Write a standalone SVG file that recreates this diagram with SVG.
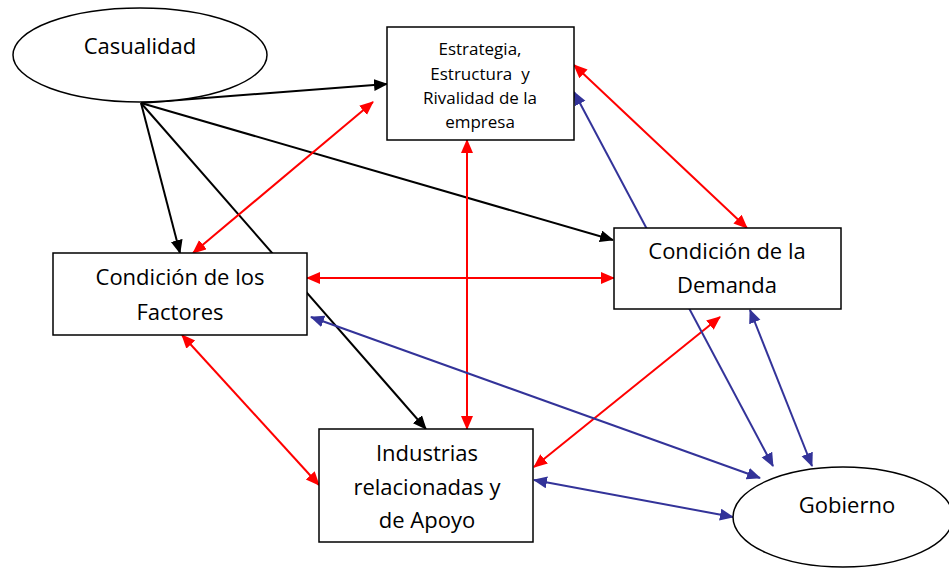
<svg xmlns="http://www.w3.org/2000/svg" width="949" height="568" viewBox="0 0 949 568">
<style>
.node{fill:#fff;stroke:#000;stroke-width:1.5}
.t{font-family:"Open Sans","Liberation Sans",sans-serif;font-size:22px;fill:#000;text-anchor:middle;white-space:pre}
.ts{font-size:17px}
.k{stroke:#000;stroke-width:2;fill:none}
.r{stroke:#ff0000;stroke-width:2;fill:none}
.b{stroke:#333399;stroke-width:2;fill:none}
</style>
<defs>
<marker id="ak" markerUnits="userSpaceOnUse" markerWidth="15" markerHeight="13" refX="13" refY="6" orient="auto-start-reverse"><path d="M0,0 L14,6 L0,12 z" fill="#000"/></marker>
<marker id="ar" markerUnits="userSpaceOnUse" markerWidth="15" markerHeight="13" refX="13" refY="6" orient="auto-start-reverse"><path d="M0,0 L14,6 L0,12 z" fill="#ff0000"/></marker>
<marker id="ab" markerUnits="userSpaceOnUse" markerWidth="15" markerHeight="13" refX="13" refY="6" orient="auto-start-reverse"><path d="M0,0 L14,6 L0,12 z" fill="#333399"/></marker>
</defs>
<g id="connectors">
<line class="k" x1="141" y1="103" x2="387" y2="84" marker-end="url(#ak)"/>
<line class="k" x1="141" y1="103" x2="180" y2="253" marker-end="url(#ak)"/>
<line class="k" x1="141" y1="103" x2="426" y2="429" marker-end="url(#ak)"/>
<line class="k" x1="141" y1="103" x2="613" y2="240" marker-end="url(#ak)"/>
<line class="r" x1="467" y1="140" x2="467" y2="429" marker-start="url(#ar)" marker-end="url(#ar)"/>
<line class="r" x1="307" y1="278" x2="614" y2="278" marker-start="url(#ar)" marker-end="url(#ar)"/>
<line class="r" x1="193" y1="253" x2="373" y2="102" marker-start="url(#ar)" marker-end="url(#ar)"/>
<line class="r" x1="574" y1="65" x2="747" y2="228" marker-start="url(#ar)" marker-end="url(#ar)"/>
<line class="r" x1="182" y1="335" x2="319" y2="485" marker-start="url(#ar)" marker-end="url(#ar)"/>
<line class="r" x1="720" y1="317" x2="534" y2="467" marker-start="url(#ar)" marker-end="url(#ar)"/>
<line class="b" x1="773" y1="466" x2="574" y2="92" marker-start="url(#ab)" marker-end="url(#ab)"/>
<line class="b" x1="311" y1="317" x2="760" y2="478" marker-start="url(#ab)" marker-end="url(#ab)"/>
<line class="b" x1="750" y1="310" x2="812" y2="466" marker-start="url(#ab)" marker-end="url(#ab)"/>
<line class="b" x1="534" y1="480" x2="733" y2="517" marker-start="url(#ab)" marker-end="url(#ab)"/>
</g>
<g id="casualidad">
<ellipse class="node" cx="140" cy="55" rx="127" ry="47"/>
<text class="t" x="140" y="54">Casualidad</text>
</g>
<g id="estrategia">
<rect class="node" x="387" y="27" width="187" height="113"/>
<text class="t ts" x="480" y="55">Estrategia,</text>
<text class="t ts" x="480" y="80">Estructura  y</text>
<text class="t ts" x="480" y="104">Rivalidad de la</text>
<text class="t ts" x="480" y="128">empresa</text>
</g>
<g id="demanda">
<rect class="node" x="614" y="228" width="227" height="81"/>
<text class="t" x="727" y="259">Condición de la</text>
<text class="t" x="727" y="293">Demanda</text>
</g>
<g id="factores">
<rect class="node" x="53" y="253" width="254" height="82"/>
<text class="t" x="180" y="285">Condición de los</text>
<text class="t" x="180" y="320">Factores</text>
</g>
<g id="industrias">
<rect class="node" x="319" y="429" width="214" height="113"/>
<text class="t" x="427" y="461">Industrias</text>
<text class="t" x="427" y="495">relacionadas y</text>
<text class="t" x="427" y="528">de Apoyo</text>
</g>
<g id="gobierno">
<ellipse class="node" cx="843" cy="517" rx="110" ry="50"/>
<text class="t" x="847" y="513">Gobierno</text>
</g>
</svg>
